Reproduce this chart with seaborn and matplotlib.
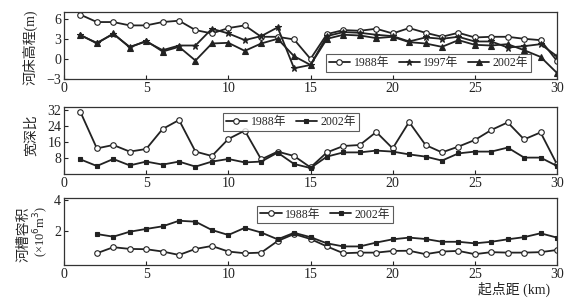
import numpy as np
import pandas as pd
import matplotlib
matplotlib.use("Agg")
import matplotlib.pyplot as plt
import seaborn as sns

# ---------------- data ----------------
km = list(range(1, 31))
elev_1988 = [6.6, 5.5, 5.5, 5.0, 5.0, 5.5, 5.7, 4.3, 3.8, 4.6, 5.0, 3.3, 3.3, 2.9, 0.0,
             3.7, 4.3, 4.2, 4.5, 3.8, 4.6, 3.9, 3.3, 3.9, 3.2, 3.3, 3.3, 3.0, 2.8, -0.3]
elev_1997 = [3.5, 2.4, 3.7, 1.8, 2.6, 1.3, 2.0, 2.0, 4.5, 3.8, 2.8, 3.4, 4.7, -1.4, -0.9,
             3.4, 4.0, 3.9, 3.6, 3.4, 2.6, 3.2, 3.0, 3.3, 2.6, 2.6, 1.7, 1.9, 2.2, 0.4]
elev_2002 = [3.6, 2.3, 3.8, 1.7, 2.7, 1.1, 1.8, -0.25, 2.3, 2.4, 1.2, 2.3, 3.0, 0.4, -0.9,
             3.0, 3.6, 3.5, 3.1, 3.3, 2.5, 2.3, 1.8, 2.8, 2.1, 2.0, 2.2, 1.3, 0.3, -2.1]

wd_1988 = [31.0, 12.8, 14.5, 11.2, 12.5, 22.5, 27.0, 11.2, 9.0, 17.5, 21.7, 7.3, 11.2, 9.0, 3.3,
           10.8, 14.0, 14.5, 21.0, 12.8, 26.0, 14.5, 10.8, 13.7, 17.0, 22.0, 25.8, 17.3, 20.8, 4.8]
wd_2002 = [7.3, 4.0, 7.5, 4.3, 6.2, 4.7, 6.2, 3.7, 6.2, 7.5, 5.8, 6.2, 10.7, 5.0, 3.0,
           8.7, 10.8, 10.8, 11.7, 11.2, 9.8, 8.7, 6.7, 10.3, 11.2, 11.2, 13.2, 8.2, 8.2, 4.0]

km_vol = list(range(2, 31))
vol_1988 = [0.56, 0.95, 0.84, 0.82, 0.67, 0.45, 0.84, 1.03, 0.67, 0.56, 0.60, 1.35, 1.80, 1.48,
            1.00, 0.56, 0.60, 0.60, 0.71, 0.72, 0.50, 0.67, 0.71, 0.50, 0.63, 0.60, 0.60, 0.63, 0.77]
vol_2002 = [1.80, 1.63, 1.95, 2.13, 2.30, 2.66, 2.60, 2.06, 1.74, 2.20, 1.90, 1.46, 1.88, 1.60,
            1.20, 1.00, 1.00, 1.25, 1.46, 1.57, 1.48, 1.30, 1.30, 1.20, 1.30, 1.46, 1.60, 1.85, 1.57]

x_ticks = [0, 5, 10, 15, 20, 25, 30]

# ---------------- style ----------------
sns.set_style("ticks")
plt.rcParams["font.family"] = ["Liberation Serif", "Noto Sans CJK SC"]
plt.rcParams["axes.linewidth"] = 0.9
plt.rcParams["xtick.direction"] = "in"
plt.rcParams["ytick.direction"] = "in"

fig = plt.figure(figsize=(5.76, 3.0), dpi=100)
L, W, H = 64 / 576, 493 / 576, 67 / 300
ax1 = fig.add_axes([L, 1 - 79 / 300, W, H])
ax2 = fig.add_axes([L, 1 - 174 / 300, W, H])
ax3 = fig.add_axes([L, 1 - 265 / 300, W, H])

C = "#222222"
lw = 1.3

def draw(ax, x, y, label, marker, ms, mfc):
    df = pd.DataFrame({"x": x, "y": y})
    sns.lineplot(data=df, x="x", y="y", ax=ax, color=C, lw=lw, marker=marker,
                 markersize=ms, markerfacecolor=mfc, markeredgecolor=C,
                 markeredgewidth=0.8, label=label)

# top panel
draw(ax1, km, elev_1988, "1988年", "o", 4, "white")
draw(ax1, km, elev_1997, "1997年", "*", 5, C)
draw(ax1, km, elev_2002, "2002年", "^", 4.5, C)
ax1.set_ylim(-3, 7.0)
ax1.set_yticks([-3, 0, 3, 6])
ax1.set_yticklabels(["\u22123", "0", "3", "6"])

# middle panel
draw(ax2, km, wd_1988, "1988年", "o", 4, "white")
draw(ax2, km, wd_2002, "2002年", "s", 2.8, C)
ax2.set_ylim(0, 33.5)
ax2.set_yticks([8, 16, 24, 32])

# bottom panel
draw(ax3, km_vol, vol_1988, "1988年", "o", 4, "white")
draw(ax3, km_vol, vol_2002, "2002年", "s", 2.8, C)
ax3.set_ylim(-0.2, 4.13)
ax3.set_yticks([2, 4])

for ax in (ax1, ax2, ax3):
    ax.set_xlim(0, 30)
    ax.set_xticks(x_ticks)
    ax.set_xlabel("")
    ax.set_ylabel("")
    ax.tick_params(labelsize=10, length=3, width=0.8, pad=2, colors="#222222")
    for s in ax.spines.values():
        s.set_visible(True)
        s.set_color("#333333")

# y labels as figure text
fig.text(31 / 576, 1 - 47 / 300, "河床高程(m)", rotation=90, ha="center", va="center", fontsize=10)
fig.text(31 / 576, 1 - 135 / 300, "宽深比", rotation=90, ha="center", va="center", fontsize=10)
fig.text(24 / 576, 1 - 234 / 300, "河槽容积", rotation=90, ha="center", va="center", fontsize=10)
fig.text(41 / 576, 1 - 231 / 300, "(×10$^6$m$^3$)", rotation=90, ha="center", va="center", fontsize=9)

leg_kw = dict(ncol=3, fontsize=8.5, frameon=True, fancybox=False, edgecolor="#333333",
              handlelength=1.8, handletextpad=0.3, columnspacing=0.8,
              borderpad=0.25, borderaxespad=0.3)
lg1 = ax1.legend(loc="lower right", bbox_to_anchor=(0.955, 0.05), **leg_kw)
lg2 = ax2.legend(loc="upper left", bbox_to_anchor=(0.315, 0.96), **leg_kw)
lg3 = ax3.legend(loc="upper left", bbox_to_anchor=(0.385, 0.94), **leg_kw)
for lg in (lg1, lg2, lg3):
    lg.get_frame().set_linewidth(0.8)

fig.text(514 / 576, 1 - 289 / 300, "起点距 (km)", ha="center", va="center", fontsize=10)

fig.savefig("out.png", dpi=100, facecolor="white")
